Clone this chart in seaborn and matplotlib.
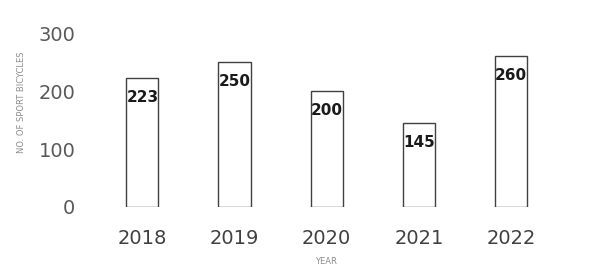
import matplotlib
matplotlib.use("Agg")
import matplotlib.pyplot as plt
import seaborn as sns
import pandas as pd

years = ["2018", "2019", "2020", "2021", "2022"]
bicycles = [223, 250, 200, 145, 260]
y_ticks = [0, 100, 200, 300]

sns.set_theme(style="white")
plt.rcParams['font.family'] = ['DejaVu Sans']

df = pd.DataFrame({"year": years, "count": bicycles})

fig = plt.figure(figsize=(6.09, 2.65), dpi=100)
ax = fig.add_axes([0.158, 0.219, 0.757, 0.656])

sns.barplot(data=df, x="year", y="count", ax=ax, color="white",
            edgecolor="#404040", linewidth=1.0, width=0.35, saturation=1)

for i, v in enumerate(bicycles):
    ax.annotate(str(v), xy=(i, v), xytext=(0, -14), textcoords="offset points",
                ha="center", va="center", fontsize=11, fontweight="bold", color="#1a1a1a")

ax.set_ylim(0, 300)
ax.set_xlim(-0.5, 4.5)
ax.set_yticks(y_ticks)
ax.set_yticklabels([str(t) for t in y_ticks])
ax.tick_params(axis="y", labelsize=14, colors="#595959", pad=15, length=0)
ax.tick_params(axis="x", labelsize=14, colors="#404040", pad=16, length=0)
for s in ax.spines.values():
    s.set_visible(False)
ax.set_xlabel("")
ax.set_ylabel("")

fig.text(0.036, 0.615, "NO. OF SPORT BICYCLES", rotation=90, ha="center", va="center",
         fontsize=6, color="#8c8c8c")
fig.text(0.536, 0.012, "YEAR", ha="center", va="center", fontsize=6, color="#8c8c8c")

fig.savefig("out.png", dpi=100)
